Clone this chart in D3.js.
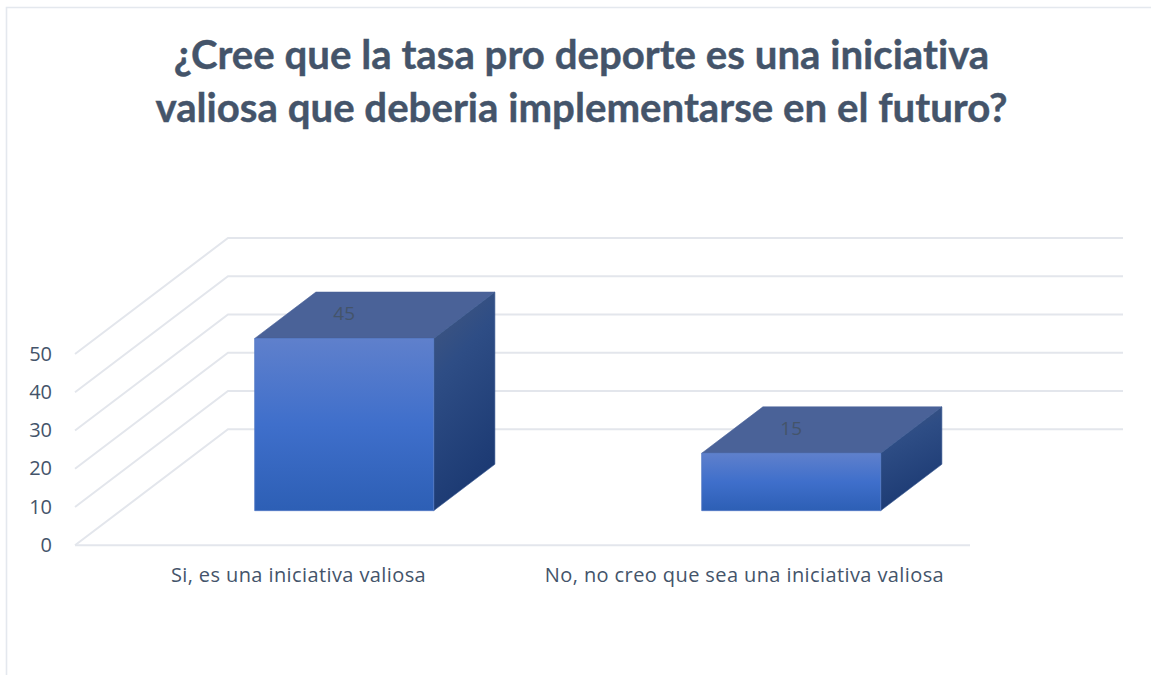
<!DOCTYPE html>
<html><head><meta charset="utf-8">
<script src="https://cdn.jsdelivr.net/npm/d3@7"></script>
<style>html,body{margin:0;padding:0;background:#fff;overflow:hidden}svg{display:block}text{font-family:"Open Sans",Lato,sans-serif;font-variant-ligatures:none}</style>
</head><body><div id="chart"></div>
<script>
const categories = ["Si, es una iniciativa valiosa", "No, no creo que sea una iniciativa valiosa"];
const values = [45, 15];
const yTicks = [0, 10, 20, 30, 40, 50];
const titleLines = ["¿Cree que la tasa pro deporte es una iniciativa", "valiosa que deberia implementarse en el futuro?"];

const W = 1151, H = 675, TEXT = "#44546a", GRID = "#e3e6ec";
const svg = d3.select("#chart").append("svg").attr("width", W).attr("height", H);

// chart frame
svg.append("path").attr("d", "M6.5,675V7.5H1151").attr("fill", "none").attr("stroke", "#e4e8ee").attr("stroke-width", 1.6);

// title
svg.append("g").selectAll("text").data(titleLines).join("text")
  .attr("x", 581.5).attr("y", (d, i) => 69 + i * 53)
  .attr("text-anchor", "middle").attr("font-size", 40.2).attr("font-weight", 700).attr("fill", TEXT)
  .attr("stroke", TEXT).attr("stroke-width", 0.4)
  .style("font-family", "Lato").text(d => d);

// scales: front plane of the 3D box
const x = d3.scaleBand().domain(categories).range([75, 969]);
const y = d3.scaleLinear().domain([0, 50]).range([545.3, 354]);
const depth = d3.scaleLinear().domain([0, 1]).range([[0, 0], [153, -116]]).interpolate((a, b) => t => [a[0] + (b[0] - a[0]) * t, a[1] + (b[1] - a[1]) * t]);
const P = (px, py, t) => { const o = depth(t); return [px + o[0], py + o[1]]; };
const pts = a => a.map(p => p.join(",")).join(" ");

// gridlines: wall + side
const grid = svg.append("g").attr("fill", "none").attr("stroke", GRID).attr("stroke-width", 2);
yTicks.forEach(t => {
  const f = [75, y(t)], b = P(75, y(t), 1), e = P(970, y(t), 1);
  grid.append("polyline").attr("points", pts([f, b, e]));
});
grid.append("line").attr("x1", 75).attr("x2", 970).attr("y1", y(0)).attr("y2", y(0));

// y axis labels
svg.append("g").selectAll("text").data(yTicks).join("text")
  .attr("x", 52).attr("y", d => y(d) + 6.5).attr("text-anchor", "end")
  .attr("font-size", 20).attr("fill", TEXT).text(d => d);

// x axis labels
svg.append("g").selectAll("text").data(categories).join("text")
  .attr("x", (d, i) => x(d) + x.bandwidth() / 2 + (i ? -1 : 0)).attr("y", 582)
  .attr("text-anchor", "middle").attr("font-size", 20).attr("letter-spacing", 0.4).attr("fill", TEXT).text(d => d);

// gradients
const defs = svg.append("defs");
const grad = (id, x1, y1, x2, y2, stops) => {
  const g = defs.append("linearGradient").attr("id", id).attr("x1", x1).attr("y1", y1).attr("x2", x2).attr("y2", y2);
  stops.forEach(s => g.append("stop").attr("offset", s[0]).attr("stop-color", s[1]));
};
grad("front", 0, 0, 0, 1, [[0, "#5f80cc"], [0.5, "#3f6fcb"], [1, "#2d5fb5"]]);
grad("side", 0.1, 0, 0.4, 1, [[0, "#43577f"], [0.35, "#2e4d85"], [1, "#1b3972"]]);

// bars
const barW = 179, t0 = 0.2987, t1 = 0.6987;
const bars = svg.append("g");
values.forEach((v, i) => {
  const c = categories[i];
  const left = x(c) + (x.bandwidth() - barW) / 2, right = left + barW;
  const top = y(v), base = y(0);
  const FL = P(left, top, t0), FR = P(right, top, t0), FB = P(right, base, t0), FA = P(left, base, t0);
  const BL = P(left, top, t1), BR = P(right, top, t1), BB = P(right, base, t1);
  bars.append("polygon").attr("points", pts([FL, BL, BR, FR])).attr("fill", "#4a6298").attr("stroke", "#4a6298").attr("stroke-width", .6);
  bars.append("polygon").attr("points", pts([FR, BR, BB, FB])).attr("fill", "url(#side)").attr("stroke", "#3a5a93").attr("stroke-width", .6);
  bars.append("polygon").attr("points", pts([FL, FR, FB, FA])).attr("fill", "url(#front)").attr("stroke", "#5077c4").attr("stroke-width", .8);
  bars.append("text").attr("x", (FL[0] + FR[0]) / 2).attr("y", (FL[1] + BL[1]) / 2 + 4.5).attr("text-anchor", "middle")
    .attr("font-size", 19).attr("fill", "#44546a").text(v);
});
</script></body></html>
